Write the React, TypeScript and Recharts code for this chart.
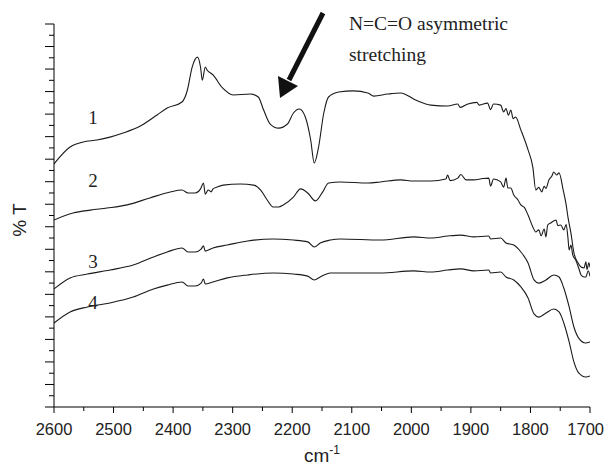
import { LineChart, Line, XAxis, YAxis } from "recharts";

// wavenumber ticks (every 50, labels on the hundreds)
const xTicks = [
  2600, 2550, 2500, 2450, 2400, 2350, 2300, 2250, 2200, 2150, 2100, 2050,
  2000, 1950, 1900, 1850, 1800, 1750, 1700,
];
// %T axis has no labels, just long/short ticks
const yTicks = [
  0, 0.5, 1, 1.5, 2, 2.5, 3, 3.5, 4, 4.5, 5, 5.5, 6, 6.5, 7, 7.5, 8, 8.5, 9,
  9.5, 10, 10.5, 11, 11.5, 12, 12.5, 13, 13.5, 14, 14.5, 15, 15.5, 16, 16.5, 17,
];

const wave1 = [
  2600, 2573, 2551, 2528, 2506, 2484, 2455, 2427, 2410, 2385, 2376, 2368, 2359,
  2354, 2351, 2346, 2343, 2333, 2317, 2299, 2270, 2257, 2248, 2237, 2223, 2208,
  2198, 2188, 2178, 2169, 2163, 2156, 2147, 2139, 2122, 2097, 2073, 2063, 2040,
  2018, 1993, 1967, 1939, 1922, 1918, 1905, 1890, 1886, 1872, 1867, 1862, 1850,
  1845, 1841, 1837, 1833, 1829, 1825, 1816, 1804, 1796, 1791, 1786, 1781, 1777,
  1774, 1769, 1764, 1761, 1756, 1752, 1745, 1740, 1737, 1732, 1727, 1720, 1715,
  1710, 1707, 1705, 1702, 1700,
];
const trans1 = [
  10.79, 11.54, 11.76, 11.85, 11.98, 12.16, 12.47, 12.96, 13.27, 13.54, 14.07,
  15.09, 15.53, 15.09, 14.51, 15.09, 14.96, 14.74, 14.16, 13.85, 13.89, 13.76,
  13.18, 12.56, 12.38, 12.56, 13.05, 13.23, 12.87, 11.85, 10.83, 11.5, 13.05,
  13.76, 13.98, 14.03, 13.94, 13.8, 13.89, 13.94, 13.63, 13.4, 13.36, 13.45,
  13.3, 13.45, 13.52, 13.4, 13.49, 13.2, 13.45, 13.4, 13.1, 13.25, 12.95, 13.18,
  12.8, 12.87, 12.29, 11.41, 10.65, 9.63, 9.75, 9.55, 9.8, 9.7, 10.08, 10.25,
  10.43, 10.3, 10.39, 9.63, 8.97, 8.43, 7.72, 6.84, 6.39, 6.21, 6.17, 6.45, 6.1,
  6.4, 6.2,
];

const wave2 = [
  2600, 2568, 2539, 2511, 2477, 2439, 2405, 2385, 2375, 2363, 2354, 2349, 2346,
  2341, 2336, 2333, 2326, 2316, 2287, 2265, 2253, 2242, 2232, 2223, 2215, 2198,
  2186, 2174, 2161, 2149, 2139, 2119, 2073, 2052, 2018, 1996, 1967, 1942, 1939,
  1935, 1922, 1917, 1908, 1895, 1880, 1870, 1867, 1862, 1850, 1845, 1841, 1838,
  1833, 1828, 1821, 1816, 1810, 1804, 1796, 1791, 1786, 1782, 1777, 1774, 1771,
  1766, 1761, 1757, 1754, 1749, 1744, 1740, 1737, 1735, 1732, 1729, 1724, 1719,
  1715, 1710, 1707, 1703, 1700,
];
const trans2 = [
  8.3, 8.61, 8.74, 8.83, 8.97, 9.28, 9.54, 9.63, 9.5, 9.5, 9.68, 9.94, 9.45,
  9.63, 9.55, 9.68, 9.76, 9.85, 9.9, 9.85, 9.63, 9.19, 8.88, 8.88, 8.97, 9.32,
  9.68, 9.5, 9.15, 9.54, 9.94, 9.99, 9.94, 9.99, 10.08, 10.03, 10.03, 10.12,
  10.3, 10.05, 10.16, 10.32, 10.08, 10.08, 10.14, 10.16, 9.81, 10.12, 9.99,
  9.76, 10.16, 9.72, 9.72, 9.41, 9.19, 8.97, 8.85, 8.52, 7.99, 7.77, 7.86, 7.6,
  7.9, 7.55, 8.08, 8.17, 8.26, 8.3, 8.05, 8.08, 7.86, 8.1, 7.5, 6.97, 7.19, 6.75,
  6.52, 6.17, 5.86, 5.77, 5.77, 6.05, 5.8,
];

const wave3 = [
  2600, 2573, 2544, 2506, 2467, 2433, 2410, 2385, 2375, 2363, 2353, 2349, 2346,
  2333, 2309, 2275, 2232, 2198, 2174, 2163, 2153, 2136, 2119, 2052, 1996, 1967,
  1939, 1917, 1895, 1870, 1867, 1850, 1841, 1828, 1816, 1804, 1794, 1786, 1774,
  1761, 1752, 1744, 1735, 1727, 1719, 1707, 1700,
];
const trans3 = [
  5.24, 5.73, 5.9, 6.08, 6.3, 6.66, 6.88, 7.06, 6.88, 6.88, 7.01, 7.15, 6.92,
  7.06, 7.19, 7.37, 7.46, 7.41, 7.33, 7.1, 7.28, 7.41, 7.46, 7.41, 7.55, 7.5,
  7.59, 7.63, 7.55, 7.59, 7.46, 7.5, 7.28, 7.19, 6.88, 6.39, 5.64, 5.5, 5.64,
  5.86, 5.77, 5.28, 4.44, 3.55, 3.06, 2.84, 2.89,
];

const wave4 = [
  2600, 2573, 2544, 2506, 2467, 2433, 2410, 2385, 2375, 2363, 2353, 2349, 2346,
  2333, 2309, 2275, 2232, 2198, 2174, 2163, 2153, 2136, 2119, 2052, 1996, 1967,
  1939, 1917, 1895, 1870, 1867, 1850, 1841, 1828, 1816, 1804, 1794, 1786, 1774,
  1761, 1752, 1744, 1735, 1727, 1719, 1707, 1700,
];
const trans4 = [
  3.73, 4.22, 4.44, 4.62, 4.88, 5.24, 5.41, 5.55, 5.37, 5.37, 5.5, 5.68, 5.46,
  5.55, 5.73, 5.86, 5.95, 5.9, 5.81, 5.64, 5.77, 5.95, 5.95, 5.95, 6.04, 5.99,
  6.08, 6.13, 6.04, 6.08, 5.95, 5.99, 5.77, 5.64, 5.33, 4.84, 4.13, 3.99, 4.17,
  4.35, 4.22, 3.73, 2.89, 2.0, 1.51, 1.33, 1.38,
];

const toSeries = (wave: number[], trans: number[]) =>
  wave.map((w, i) => ({ w, t: trans[i] }));

const series = [
  toSeries(wave1, trans1),
  toSeries(wave2, trans2),
  toSeries(wave3, trans3),
  toSeries(wave4, trans4),
];

const XTick = (props: any) => {
  const { x, y, payload } = props;
  const major = payload.value % 100 === 0;
  // keep the last label inside the 605px frame
  const last = payload.value === 1700;
  return (
    <g>
      <line x1={x} y1={y} x2={x} y2={y + (major ? 6 : 4)} stroke="#000" />
      {major && (
        <text
          x={last ? 604 : x}
          y={y + 28}
          textAnchor={last ? "end" : "middle"}
          fontSize={16.5}
          fontFamily="Liberation Sans, Arial, sans-serif"
          fill="#222"
        >
          {payload.value}
        </text>
      )}
    </g>
  );
};

const YTick = (props: any) => {
  const { x, y, payload } = props;
  const major = Number.isInteger(payload.value);
  return <line x1={x - (major ? 9 : 5)} y1={y} x2={x} y2={y} stroke="#000" />;
};

const serif = "Liberation Serif, Times New Roman, serif";

export default function App() {
  return (
    <div style={{ position: "absolute", left: 0, top: 0, width: 605, height: 466, background: "#fff" }}>
      <LineChart
        width={605}
        height={466}
        margin={{ top: 24, right: 15, bottom: 0, left: 0 }}
      >
        <XAxis
          dataKey="w"
          type="number"
          domain={[1700, 2600]}
          reversed
          ticks={xTicks}
          interval={0}
          tick={<XTick />}
          tickLine={false}
          tickSize={0}
          tickMargin={0}
          height={59}
          axisLine={{ stroke: "#000" }}
          allowDataOverflow
        />
        <YAxis
          type="number"
          domain={[0, 17]}
          ticks={yTicks}
          interval={0}
          tick={<YTick />}
          tickLine={false}
          tickSize={0}
          tickMargin={0}
          width={54}
          axisLine={{ stroke: "#000" }}
        />
        {series.map((data, i) => (
          <Line
            key={i}
            data={data}
            dataKey="t"
            type="monotone"
            stroke="#1a1a1a"
            strokeWidth={1.1}
            dot={false}
            isAnimationActive={false}
          />
        ))}
      </LineChart>
      <svg
        width={605}
        height={466}
        style={{ position: "absolute", left: 0, top: 0, pointerEvents: "none" }}
      >
        <text
          transform="translate(26,220) rotate(-90)"
          textAnchor="middle"
          fontSize={19}
          fontFamily="Liberation Sans, Arial, sans-serif"
          fill="#222"
        >
          % T
        </text>
        <text
          x={322}
          y={462}
          textAnchor="middle"
          fontSize={19}
          fontFamily="Liberation Sans, Arial, sans-serif"
          fill="#222"
        >
          cm
          <tspan dy={-8} fontSize={12}>
            -1
          </tspan>
        </text>
        {["1", "2", "3", "4"].map((s, i) => (
          <text
            key={s}
            x={93}
            y={[117, 180, 261, 302][i] + 6.5}
            textAnchor="middle"
            fontSize={19}
            fontFamily={serif}
            fill="#222"
          >
            {s}
          </text>
        ))}
        <text x={349} y={30} fontSize={19.5} fontFamily={serif} fill="#222">
          N=C=O asymmetric
        </text>
        <text x={349} y={61} fontSize={19.5} fontFamily={serif} fill="#222">
          stretching
        </text>
        <line x1={323} y1={13} x2={289} y2={80} stroke="#111" strokeWidth={5} />
        <polygon points="278,76 298,86 280,98" fill="#111" />
      </svg>
    </div>
  );
}
